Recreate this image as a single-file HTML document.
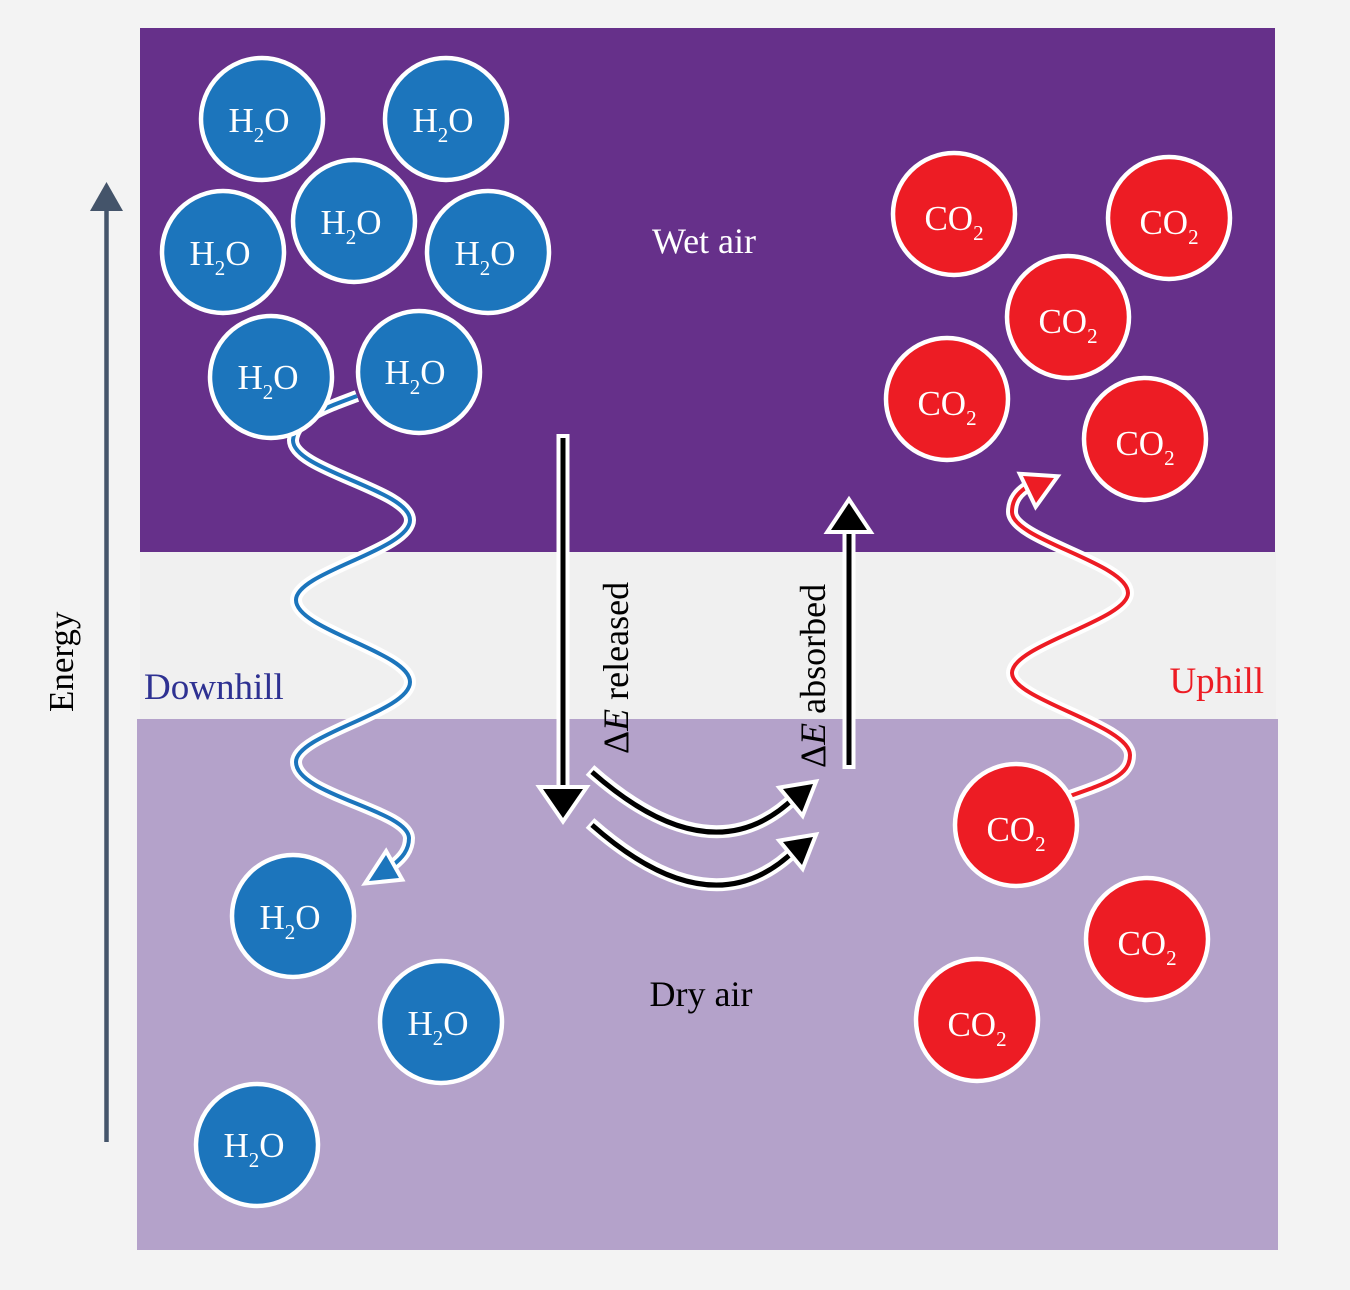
<!DOCTYPE html>
<html>
<head>
<meta charset="utf-8">
<style>
html,body{margin:0;padding:0;background:#f3f3f3;}
svg{display:block;}
text{font-family:"Liberation Serif",serif;}
</style>
</head>
<body>
<svg width="1350" height="1290" viewBox="0 0 1350 1290" xmlns="http://www.w3.org/2000/svg">
  <rect x="0" y="0" width="1350" height="1290" fill="#f3f3f3"/>
  <rect x="140" y="551" width="1136" height="168" fill="#f0f0f0"/>
  <rect x="140" y="28" width="1135" height="524" fill="#66308a"/>
  <rect x="137" y="719" width="1141" height="531" fill="#b4a2ca"/>

  <!-- Energy arrow -->
  <line x1="106.5" y1="208" x2="106.5" y2="1142" stroke="#44546a" stroke-width="4.5"/>
  <polygon points="106.5,182 90,211 123,211" fill="#44546a"/>
  <text transform="translate(73,712) rotate(-90)" font-size="35" fill="#000">Energy</text>

  <!-- Blue wave -->
  <g fill="none" stroke-linecap="butt" stroke-linejoin="round">
    <path d="M 357 396 C 325 408, 295 418, 293 440 C 292 470, 410 490, 410 520 C 410 550, 296 572, 296 600 C 296 630, 410 652, 410 682 C 410 712, 296 734, 296 762 C 296 795, 408 810, 409 838 C 409 850, 402 858, 393 865" stroke="#ffffff" stroke-width="12"/>
    <path d="M 357 396 C 325 408, 295 418, 293 440 C 292 470, 410 490, 410 520 C 410 550, 296 572, 296 600 C 296 630, 410 652, 410 682 C 410 712, 296 734, 296 762 C 296 795, 408 810, 409 838 C 409 850, 402 858, 393 865" stroke="#1c75bc" stroke-width="4"/>
  </g>
  <polygon points="386,855 369,881 399,878" fill="#1c75bc" stroke="#ffffff" stroke-width="8" paint-order="stroke" stroke-linejoin="miter"/>

  <!-- Red wave -->
  <g fill="none" stroke-linecap="butt" stroke-linejoin="round">
    <path d="M 1070 796 C 1110 782, 1130 775, 1130 755 C 1130 725, 1012 700, 1012 673 C 1012 645, 1128 620, 1128 593 C 1128 563, 1012 540, 1012 512 C 1012 500, 1018 492, 1030 485" stroke="#ffffff" stroke-width="12"/>
    <path d="M 1070 796 C 1110 782, 1130 775, 1130 755 C 1130 725, 1012 700, 1012 673 C 1012 645, 1128 620, 1128 593 C 1128 563, 1012 540, 1012 512 C 1012 500, 1018 492, 1030 485" stroke="#ed1c24" stroke-width="4"/>
  </g>
  <polygon points="1023,476 1054,478 1036,503" fill="#ed1c24" stroke="#ffffff" stroke-width="8" paint-order="stroke" stroke-linejoin="miter"/>

  <!-- H2O circles -->
  <g fill="#1c75bc" stroke="#ffffff" stroke-width="4.5">
    <circle cx="262" cy="119" r="61"/>
    <circle cx="446" cy="119" r="61"/>
    <circle cx="223" cy="252" r="61"/>
    <circle cx="354" cy="221" r="61"/>
    <circle cx="488" cy="252" r="61"/>
    <circle cx="271" cy="377" r="61"/>
    <circle cx="419" cy="372" r="61"/>
    <circle cx="293" cy="916" r="61"/>
    <circle cx="441" cy="1022" r="61"/>
    <circle cx="257" cy="1145" r="61"/>
  </g>
  <g fill="#ffffff" font-size="35" text-anchor="middle">
    <text x="259" y="132">H<tspan font-size="21" dy="10">2</tspan><tspan dy="-10">O</tspan></text>
    <text x="443" y="132">H<tspan font-size="21" dy="10">2</tspan><tspan dy="-10">O</tspan></text>
    <text x="220" y="265">H<tspan font-size="21" dy="10">2</tspan><tspan dy="-10">O</tspan></text>
    <text x="351" y="234">H<tspan font-size="21" dy="10">2</tspan><tspan dy="-10">O</tspan></text>
    <text x="485" y="265">H<tspan font-size="21" dy="10">2</tspan><tspan dy="-10">O</tspan></text>
    <text x="268" y="389">H<tspan font-size="21" dy="10">2</tspan><tspan dy="-10">O</tspan></text>
    <text x="415" y="384">H<tspan font-size="21" dy="10">2</tspan><tspan dy="-10">O</tspan></text>
    <text x="290" y="929">H<tspan font-size="21" dy="10">2</tspan><tspan dy="-10">O</tspan></text>
    <text x="438" y="1035">H<tspan font-size="21" dy="10">2</tspan><tspan dy="-10">O</tspan></text>
    <text x="254" y="1157">H<tspan font-size="21" dy="10">2</tspan><tspan dy="-10">O</tspan></text>
  </g>

  <!-- CO2 circles -->
  <g fill="#ed1c24" stroke="#ffffff" stroke-width="4.5">
    <circle cx="954" cy="214" r="61"/>
    <circle cx="1169" cy="218" r="61"/>
    <circle cx="1068" cy="317" r="61"/>
    <circle cx="947" cy="399" r="61"/>
    <circle cx="1145" cy="439" r="61"/>
    <circle cx="1016" cy="825" r="61"/>
    <circle cx="1147" cy="939" r="61"/>
    <circle cx="977" cy="1020" r="61"/>
  </g>
  <g fill="#ffffff" font-size="35" text-anchor="middle">
    <text x="954" y="230">CO<tspan font-size="21" dy="10">2</tspan></text>
    <text x="1169" y="234">CO<tspan font-size="21" dy="10">2</tspan></text>
    <text x="1068" y="333">CO<tspan font-size="21" dy="10">2</tspan></text>
    <text x="947" y="415">CO<tspan font-size="21" dy="10">2</tspan></text>
    <text x="1145" y="455">CO<tspan font-size="21" dy="10">2</tspan></text>
    <text x="1016" y="841">CO<tspan font-size="21" dy="10">2</tspan></text>
    <text x="1147" y="955">CO<tspan font-size="21" dy="10">2</tspan></text>
    <text x="977" y="1036">CO<tspan font-size="21" dy="10">2</tspan></text>
  </g>

  <!-- Labels -->
  <text x="704" y="253" font-size="36" fill="#ffffff" text-anchor="middle">Wet air</text>
  <text x="701" y="1006" font-size="36" fill="#000000" text-anchor="middle">Dry air</text>
  <text x="144" y="699" font-size="37" fill="#2e3192">Downhill</text>
  <text x="1264" y="693" font-size="37" fill="#ed1c24" text-anchor="end">Uphill</text>

  <text transform="translate(628,754) rotate(-90)" font-size="36" fill="#000">Δ<tspan font-style="italic">E</tspan> released</text>
  <text transform="translate(825,768) rotate(-90)" font-size="36" fill="#000">Δ<tspan font-style="italic">E</tspan> absorbed</text>

  <!-- Down arrow -->
  <line x1="563" y1="434" x2="563" y2="792" stroke="#ffffff" stroke-width="13"/>
  <line x1="563" y1="438" x2="563" y2="792" stroke="#000000" stroke-width="5"/>
  <polygon points="543,789 583,789 563,818" fill="#000" stroke="#ffffff" stroke-width="8" paint-order="stroke" stroke-linejoin="miter"/>

  <!-- Up arrow -->
  <line x1="849" y1="528" x2="849" y2="769" stroke="#ffffff" stroke-width="13"/>
  <line x1="849" y1="528" x2="849" y2="765" stroke="#000000" stroke-width="5"/>
  <polygon points="831,530 867,530 849,503" fill="#000" stroke="#ffffff" stroke-width="8" paint-order="stroke" stroke-linejoin="miter"/>

  <!-- Curved arrows -->
  <g fill="none">
    <path d="M 590 770 Q 712 878 795 797" stroke="#ffffff" stroke-width="13"/>
    <path d="M 592 772 Q 712 878 795 797" stroke="#000000" stroke-width="5"/>
    <path d="M 590 823 Q 712 931 795 850" stroke="#ffffff" stroke-width="13"/>
    <path d="M 592 825 Q 712 931 795 850" stroke="#000000" stroke-width="5"/>
  </g>
  <polygon points="783,789 813,784 802,812" fill="#000" stroke="#ffffff" stroke-width="8" paint-order="stroke" stroke-linejoin="miter"/>
  <polygon points="783,842 813,837 802,865" fill="#000" stroke="#ffffff" stroke-width="8" paint-order="stroke" stroke-linejoin="miter"/>
</svg>
</body>
</html>
